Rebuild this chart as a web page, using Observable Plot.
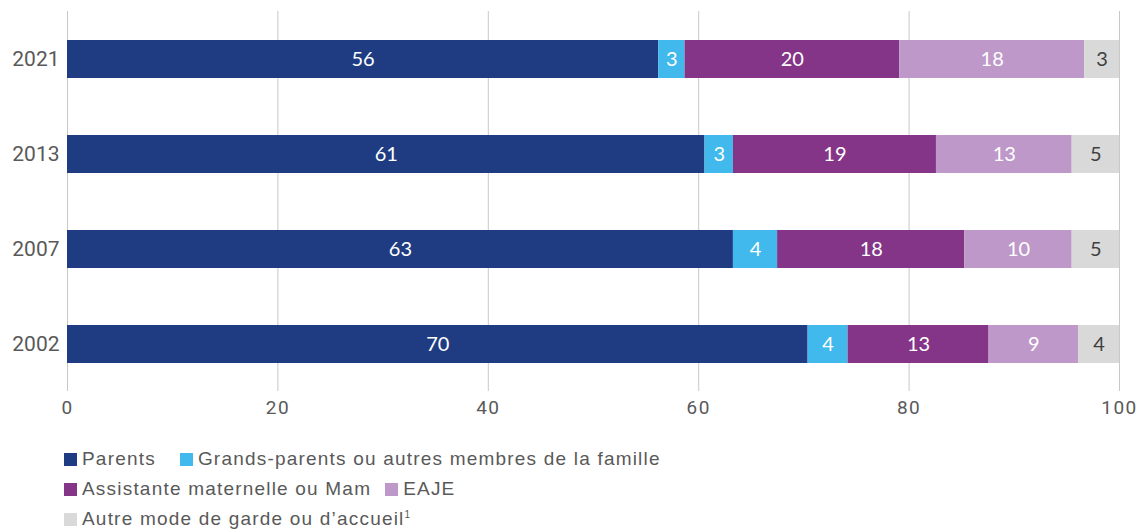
<!DOCTYPE html>
<html>
<head>
<meta charset="utf-8">
<script src="https://cdn.jsdelivr.net/npm/d3@7"></script>
<script src="https://cdn.jsdelivr.net/npm/@observablehq/plot@0.6"></script>
<style>
  body { margin: 0; background: #fff; font-family: "Liberation Sans", Arial, sans-serif; }
  #legend { margin: 19px 0 0 64px; color: #595959; font-size: 19px; letter-spacing: 1.2px; }
  #legend .row { height: 30px; line-height: 30px; white-space: nowrap; }
  #legend .item { display: inline-block; margin-right: 14px; }
  #legend .sw { display: inline-block; width: 13px; height: 13px; margin-right: 5px; vertical-align: -1px; }
  #legend sup { font-size: 10px; line-height: 0; vertical-align: 7px; letter-spacing: 0; }
</style>
</head>
<body>
<div id="chart"></div>
<div id="legend"></div>
<script>
const years = ["2021", "2013", "2007", "2002"];
const categories = [
  "Parents",
  "Grands-parents ou autres membres de la famille",
  "Assistante maternelle ou Mam",
  "EAJE",
  "Autre mode de garde ou d\u2019accueil"
];
const colors = ["#1f3c83", "#41b9ec", "#843587", "#bd98c8", "#d9d9d9"];
// values per category, in the order of years
const parents      = [56.2, 60.6, 63.3, 70.4];
const grandParents = [2.5, 2.7, 4.2, 3.8];
const assistante   = [20.4, 19.3, 17.8, 13.4];
const eaje         = [17.6, 12.9, 10.2, 8.5];
const autre        = [3.3, 4.5, 4.5, 3.9];
const series = [parents, grandParents, assistante, eaje, autre];
const xTicks = [0, 20, 40, 60, 80, 100];

const data = [];
years.forEach((y, i) => {
  categories.forEach((c, j) => {
    data.push({year: y, cat: c, value: series[j][i]});
  });
});

const chart = Plot.plot({
  width: 1140,
  height: 425,
  marginTop: 11,
  marginBottom: 34,
  marginLeft: 67,
  marginRight: 21,
  style: {fontFamily: "Roboto, 'Liberation Sans', sans-serif", fontSize: "19px", color: "#595959", background: "#fff"},
  x: {domain: [0, 100], ticks: xTicks, label: null, tickSize: 0, tickPadding: 9},
  y: {domain: years, label: null, tickSize: 0, tickPadding: 8, paddingInner: 0.6, paddingOuter: 0.3},
  color: {domain: categories, range: colors},
  marks: [
    Plot.gridX(xTicks, {stroke: "#c8c8c8", strokeOpacity: 1, strokeWidth: 1}),
    Plot.barX(data, Plot.stackX({x: "value", y: "year", fill: "cat", order: categories})),
    Plot.text(data, Plot.stackX({
      x: "value", y: "year", z: "cat", order: categories,
      text: d => String(Math.round(d.value)),
      fill: d => d.cat === categories[4] ? "#404040" : "#ffffff",
      fontSize: 20,
      fontFamily: "Lato, 'Open Sans', sans-serif",
      letterSpacing: 2.5
    }))
  ]
});
chart.querySelectorAll("g[aria-label='x-axis tick label'] text").forEach(t => t.setAttribute("letter-spacing", "1.5"));
chart.querySelectorAll("g[aria-label='y-axis tick label']").forEach(g => g.setAttribute("font-size", "21"));
document.getElementById("chart").appendChild(chart);

const rows = [[0, 1], [2, 3], [4]];
const legend = document.getElementById("legend");
rows.forEach(r => {
  const row = document.createElement("div");
  row.className = "row";
  r.forEach(j => {
    const it = document.createElement("span");
    it.className = "item";
    if (j === 0) it.style.marginRight = "24px";
    const sw = document.createElement("span");
    sw.className = "sw";
    sw.style.background = colors[j];
    it.appendChild(sw);
    it.appendChild(document.createTextNode(categories[j]));
    if (j === 4) {
      const sup = document.createElement("sup");
      sup.textContent = "1";
      it.appendChild(sup);
    }
    row.appendChild(it);
  });
  legend.appendChild(row);
});
</script>
</body>
</html>
